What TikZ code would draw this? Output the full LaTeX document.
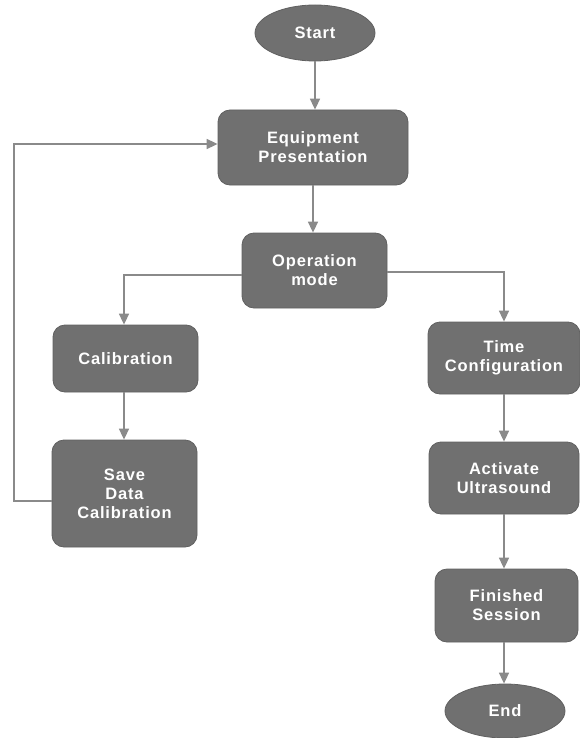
\documentclass[tikz,border=0pt]{standalone}
\usepackage{fontspec}
\setmainfont{Liberation Sans}[LetterSpace=5]
\usetikzlibrary{arrows.meta,shapes.geometric}
\definecolor{boxfill}{HTML}{707070}
\definecolor{boxedge}{HTML}{606060}
\definecolor{linkgrey}{HTML}{8A8A8A}
\tikzset{
  stepbox/.style={draw=boxedge, line width=0.8pt, fill=boxfill, rounded corners=12pt,
    text=white, font=\fontsize{16.5}{19}\selectfont\bfseries, align=center,
    inner sep=0pt},
  terminal/.style={ellipse, draw=boxedge, line width=0.8pt, fill=boxfill,
    text=white, font=\fontsize{16.5}{19}\selectfont\bfseries, inner sep=0pt},
  link/.style={draw=linkgrey, line width=1.6pt,
    -{Triangle[length=11pt,width=10pt]}},
}
\begin{document}
\begin{tikzpicture}[x=1pt,y=-1pt]
  \useasboundingbox (0,0) rectangle (580,738);
  % flow steps
  \node[terminal, minimum width=120pt, minimum height=56pt] (start) at (315,33) {Start};
  \node[stepbox, minimum width=190pt, minimum height=75pt] (equip) at (313,147.5) {Equipment\\Presentation};
  \node[stepbox, minimum width=145pt, minimum height=75pt] (opmode) at (314.5,270.5) {Operation\\mode};
  \node[stepbox, minimum width=145pt, minimum height=67pt] (calib) at (125.5,358.5) {Calibration};
  \node[stepbox, minimum width=145pt, minimum height=107pt] (save) at (124.5,493.5) {Save\\Data\\Calibration};
  \node[stepbox, minimum width=152pt, minimum height=72pt] (time) at (504,358) {Time\\Configuration};
  \node[stepbox, minimum width=150pt, minimum height=72pt] (activ) at (504,478) {Activate\\Ultrasound};
  \node[stepbox, minimum width=143pt, minimum height=73pt] (finish) at (506.5,605.5) {Finished\\Session};
  \node[terminal, minimum width=120pt, minimum height=54pt] (end) at (505,711) {End};
  % turning points of the elbow connectors
  \coordinate (lturn) at (124,275);
  \coordinate (rturn) at (504,272);
  \coordinate (fbot) at (14,501);
  \coordinate (ftop) at (14,144);
  % connectors
  \draw[link] (start) -- (start.south |- equip.north);
  \draw[link] (equip) -- (equip.south |- opmode.north);
  \draw[link] (lturn -| opmode.west) -- (lturn) -- (lturn |- calib.north);
  \draw[link] (calib.south -| lturn) -- (lturn |- save.north);
  \draw[link] (fbot -| save.west) -- (fbot) -- (ftop) -- (ftop -| equip.west);
  \draw[link] (rturn -| opmode.east) -- (rturn) -- (rturn |- time.north);
  \draw[link] (time.south) -- (activ.north);
  \draw[link] (activ.south) -- (activ.south |- finish.north);
  \draw[link] (finish.south -| activ.south) -- (end.north -| activ.south);
\end{tikzpicture}
\end{document}
